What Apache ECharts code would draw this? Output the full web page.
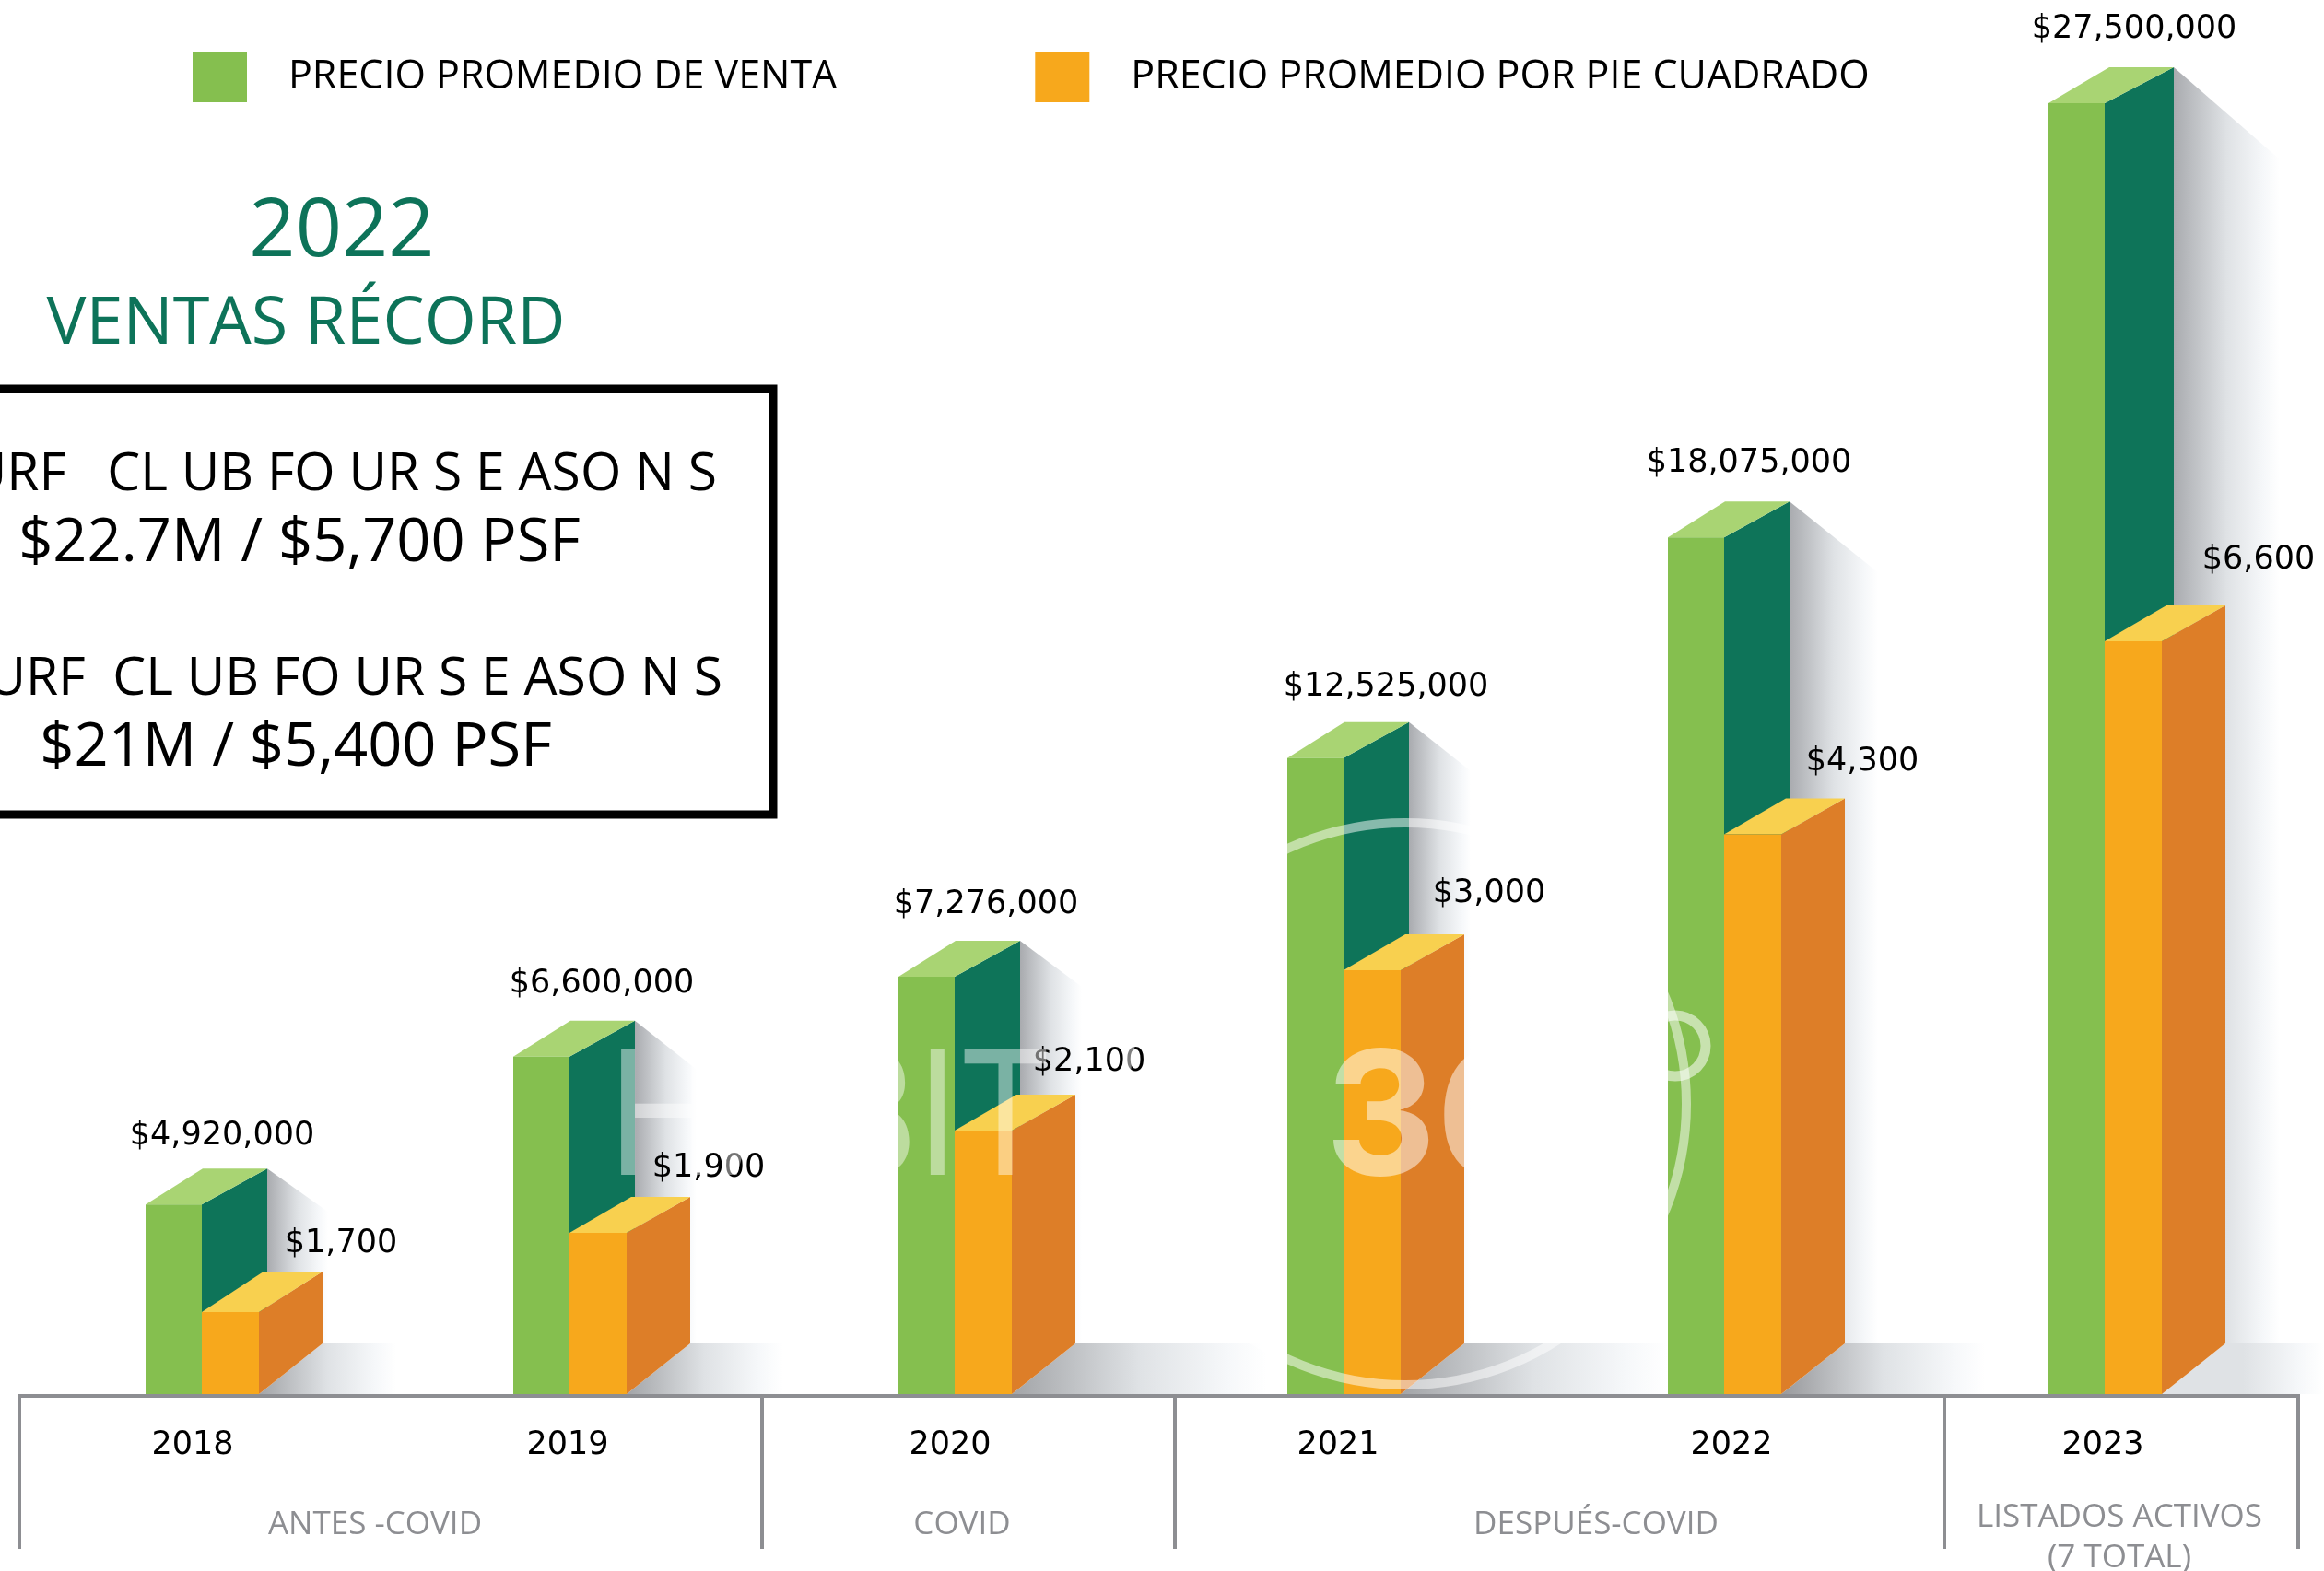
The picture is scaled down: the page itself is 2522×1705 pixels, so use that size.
<!DOCTYPE html>
<html>
<head>
<meta charset="utf-8">
<title>Precio promedio</title>
<style>
html, body { margin: 0; padding: 0; background: #fff; overflow: hidden; }
#chart-canvas { width: 2522px; height: 1705px; }
</style>
<script src="https://cdn.jsdelivr.net/npm/echarts@6/dist/echarts.min.js"></script>
</head>
<body>
<div id="chart-canvas"></div>
<script>
const years = ['2018', '2019', '2020', '2021', '2022', '2023'];

// printed values
const ventaLabels = ['$4,920,000', '$6,600,000', '$7,276,000', '$12,525,000', '$18,075,000', '$27,500,000'];
const pieLabels = ['$1,700', '$1,900', '$2,100', '$3,000', '$4,300', '$6,600'];

// The bars in the picture are not to scale with their printed values, so these are
// the values as drawn (only the 2023 bars agree with their labels)
const ventaDrawn = [4.04, 7.19, 8.89, 13.55, 18.25, 27.5]; // millions
const pieDrawn = [719, 1414, 2310, 3716, 4907, 6600]; // per sq ft

const ventaName = 'PRECIO PROMEDIO DE VENTA';
const pieName = 'PRECIO PROMEDIO POR PIE CUADRADO';

const groupNames = ['ANTES -COVID', 'COVID', 'DESPUÉS-COVID'];

// layout tweaks, the source spacing is uneven
const barNudge = [0, -14, -9, 0, 0, 0];
const yearNudge = [-10, -16, -14, -6, 8, -2];
const ventaLabelNudge = [22, 35, 34, 46, 27, 32];
const pieLabelNudge = [151, 151, 146, 158, 150, 167];
const ventaLabelLift = [35, 39.5, 39.5, 38, 41, 41];
const pieLabelLift = [30, 31, 35, 44, 39.5, 49];
const wallReach = [66, 67, 67, 67, 96, 115];
const wallDrop = [47, 53, 50, 53, 77, 100];
const floorReach = [80, 100, 207, 220, 152, 107];
const floorTone = ['#a2a4a7', '#a2a4a7', '#a2a4a7', '#a2a4a7', '#98999c', '#dfe2e5'];

const BAR_W = 62;
const GREEN_W = 61;
const FLOOR_DY = 55;
const FONT = '"DejaVu Sans"';
const HEAD_FONT = '"Open Sans"';

function poly(points, fill) {
    return { type: 'polygon', shape: { points: points }, style: { fill: fill } };
}

function fade(from) {
    return {
        type: 'linear', x: 0, y: 0, x2: 1, y2: 0,
        colorStops: [
            { offset: 0, color: from },
            { offset: 0.5, color: '#dfe2e5' },
            { offset: 0.85, color: '#f6f8fa' },
            { offset: 1, color: '#ffffff' }
        ]
    };
}

function label(text, x, y) {
    return {
        type: 'text',
        style: { text: text, x: x, y: y, align: 'center', verticalAlign: 'middle', fontFamily: FONT, fontSize: 35, fill: '#000' }
    };
}

// shadows behind the green bar and on the floor
function renderShadow(params, api) {
    const i = params.dataIndex;
    const top = api.coord([api.value(0), api.value(1)]);
    const zero = api.coord([api.value(0), 0]);
    const join = top[0] + barNudge[i];
    const dx = i === 5 ? 75 : 71;
    const wallX = join + dx;
    const backY = top[1] - 39;
    const floorY = zero[1] - FLOOR_DY;
    const sideX = join + BAR_W;
    return {
        type: 'group',
        children: [
            poly([[wallX, backY], [wallX + wallReach[i], backY + wallDrop[i]], [wallX + wallReach[i], floorY], [wallX, floorY]], fade('#a9abaf')),
            poly([[sideX, zero[1]], [sideX + 69, floorY], [sideX + 69 + floorReach[i], floorY], [sideX + 69 + floorReach[i], zero[1]]], fade(floorTone[i]))
        ]
    };
}

function renderVenta(params, api) {
    const i = params.dataIndex;
    const top = api.coord([api.value(0), api.value(1)]);
    const zero = api.coord([api.value(0), 0]);
    const join = top[0] + barNudge[i];
    const left = join - GREEN_W;
    const dx = i === 5 ? 75 : 71;
    const backY = top[1] - 39;
    return {
        type: 'group',
        children: [
            poly([[join, top[1]], [join + dx, backY], [join + dx, zero[1] - FLOOR_DY], [join + BAR_W, zero[1]], [join, zero[1]]], '#0e7459'),
            poly([[left, top[1]], [left + dx - 9, backY], [join + dx, backY], [join, top[1]]], '#a9d473'),
            poly([[left, top[1]], [join, top[1]], [join, zero[1]], [left, zero[1]]], '#85bf4f'),
            label(ventaLabels[i], join + ventaLabelNudge[i], backY - ventaLabelLift[i])
        ]
    };
}

function renderPie(params, api) {
    const i = params.dataIndex;
    const top = api.coord([api.value(0), api.value(1)]);
    const zero = api.coord([api.value(0), 0]);
    const left = top[0] + barNudge[i];
    const right = left + BAR_W;
    const dx = 69;
    const backY = top[1] - (i === 0 ? 44 : 39);
    return {
        type: 'group',
        children: [
            poly([[right, top[1]], [right + dx, backY], [right + dx, zero[1] - FLOOR_DY], [right, zero[1]]], '#dd7e28'),
            poly([[left, top[1]], [left + dx - 2, backY], [right + dx, backY], [right, top[1]]], '#f8d04f'),
            poly([[left, top[1]], [right, top[1]], [right, zero[1]], [left, zero[1]]], '#f7a81c'),
            label(pieLabels[i], left + pieLabelNudge[i], backY - pieLabelLift[i])
        ]
    };
}

function rule(x1, y1, x2, y2) {
    return { type: 'line', z: 20, shape: { x1: x1, y1: y1, x2: x2, y2: y2 }, style: { stroke: '#8d8e92', lineWidth: 4 } };
}

function txt(text, x, y, size, fill, family, align, z) {
    return {
        type: 'text', z: z || 20, x: x, y: y,
        style: { text: text, align: align || 'center', verticalAlign: 'middle', fontSize: size, fontFamily: family || HEAD_FONT, fill: fill || '#000' }
    };
}

const chart = echarts.init(document.getElementById('chart-canvas'));

const option = {
    animation: false,
    backgroundColor: '#fff',
    legend: {
        left: 204,
        top: 51,
        itemWidth: 59,
        itemHeight: 55,
        itemGap: 215,
        selectedMode: false,
        icon: 'rect',
        textStyle: { fontFamily: HEAD_FONT, fontSize: 43, color: '#000', padding: [0, 0, 0, 40] },
        data: [
            { name: ventaName, itemStyle: { color: '#85bf4f' } },
            { name: pieName, itemStyle: { color: '#f7a81c' } }
        ]
    },
    grid: { left: 12.5, width: 2478, top: 0, height: 1513 },
    xAxis: {
        type: 'category',
        data: years.map((y, i) => ({
            value: y,
            textStyle: { padding: yearNudge[i] < 0 ? [0, -2 * yearNudge[i], 0, 0] : [0, 0, 0, 2 * yearNudge[i]] }
        })),
        axisLine: { show: false },
        axisTick: { show: false },
        axisLabel: { interval: 0, margin: 38, fontFamily: FONT, fontSize: 35, color: '#000' }
    },
    yAxis: [
        { type: 'value', min: 0, max: 29.7, show: false },
        { type: 'value', min: 0, max: 12222, show: false }
    ],
    series: [
        {
            type: 'custom', name: 'sombra', z: 1, silent: true,
            renderItem: renderShadow,
            encode: { x: 0, y: 1 },
            data: years.map((y, i) => [i, ventaDrawn[i]])
        },
        {
            type: 'custom', name: ventaName, z: 2,
            renderItem: renderVenta,
            encode: { x: 0, y: 1 },
            data: years.map((y, i) => [i, ventaDrawn[i]])
        },
        {
            type: 'custom', name: pieName, z: 3, yAxisIndex: 1,
            renderItem: renderPie,
            encode: { x: 0, y: 1 },
            data: years.map((y, i) => [i, pieDrawn[i]])
        }
    ],
    graphic: { elements: [
        // bracket under the axis
        rule(19, 1515, 2496, 1515),
        rule(21, 1515, 21, 1681),
        rule(827, 1515, 827, 1681),
        rule(1275, 1515, 1275, 1681),
        rule(2110, 1515, 2110, 1681),
        rule(2494, 1515, 2494, 1681),
        txt(groupNames[0], 407, 1655, 35, '#8d8e92'),
        txt(groupNames[1], 1044, 1655, 35, '#8d8e92'),
        txt(groupNames[2], 1732, 1655, 35, '#8d8e92'),
        txt('LISTADOS ACTIVOS', 2300, 1647, 35, '#8d8e92'),
        txt('(7 TOTAL)', 2300, 1691, 35, '#8d8e92'),
        // left panel
        txt('2022', 371, 253, 88, '#0d7359'),
        txt('VENTAS RÉCORD', 332, 352, 72, '#0d7359'),
        { type: 'rect', z: 20, shape: { x: -20, y: 422, width: 859, height: 462 }, style: { fill: 'none', stroke: '#000', lineWidth: 9 } },
        txt('SURF   CL UB FO UR S E ASO N S', 778, 516, 57, '#000', HEAD_FONT, 'right'),
        txt('$22.7M / $5,700 PSF', 325, 590, 65),
        txt('SURF  CL UB FO UR S E ASO N S', 784, 738, 57, '#000', HEAD_FONT, 'right'),
        txt('$21M / $5,400 PSF', 321, 812, 65),
        // watermark sits over the bars and labels
        { type: 'circle', z: 50, shape: { cx: 1525, cy: 1198, r: 305 }, style: { fill: 'none', stroke: 'rgba(255,255,255,0.5)', lineWidth: 10 } },
        { type: 'circle', z: 50, shape: { cx: 1818, cy: 1135, r: 33 }, style: { fill: 'none', stroke: 'rgba(255,255,255,0.55)', lineWidth: 11 } },
        { type: 'text', z: 50, x: 660, y: 1219, scaleX: 0.86, style: { text: 'HABIT', align: 'left', verticalAlign: 'middle', fontFamily: 'Inter', fontWeight: 400, fontSize: 187, fill: 'rgba(255,255,255,0.45)' } },
        { type: 'text', z: 50, x: 1438, y: 1219, style: { text: '360', align: 'left', verticalAlign: 'middle', fontFamily: 'Inter', fontWeight: 700, fontSize: 187, fill: 'rgba(255,255,255,0.5)' } }
    ] }
};

chart.setOption(option);
</script>
</body>
</html>
